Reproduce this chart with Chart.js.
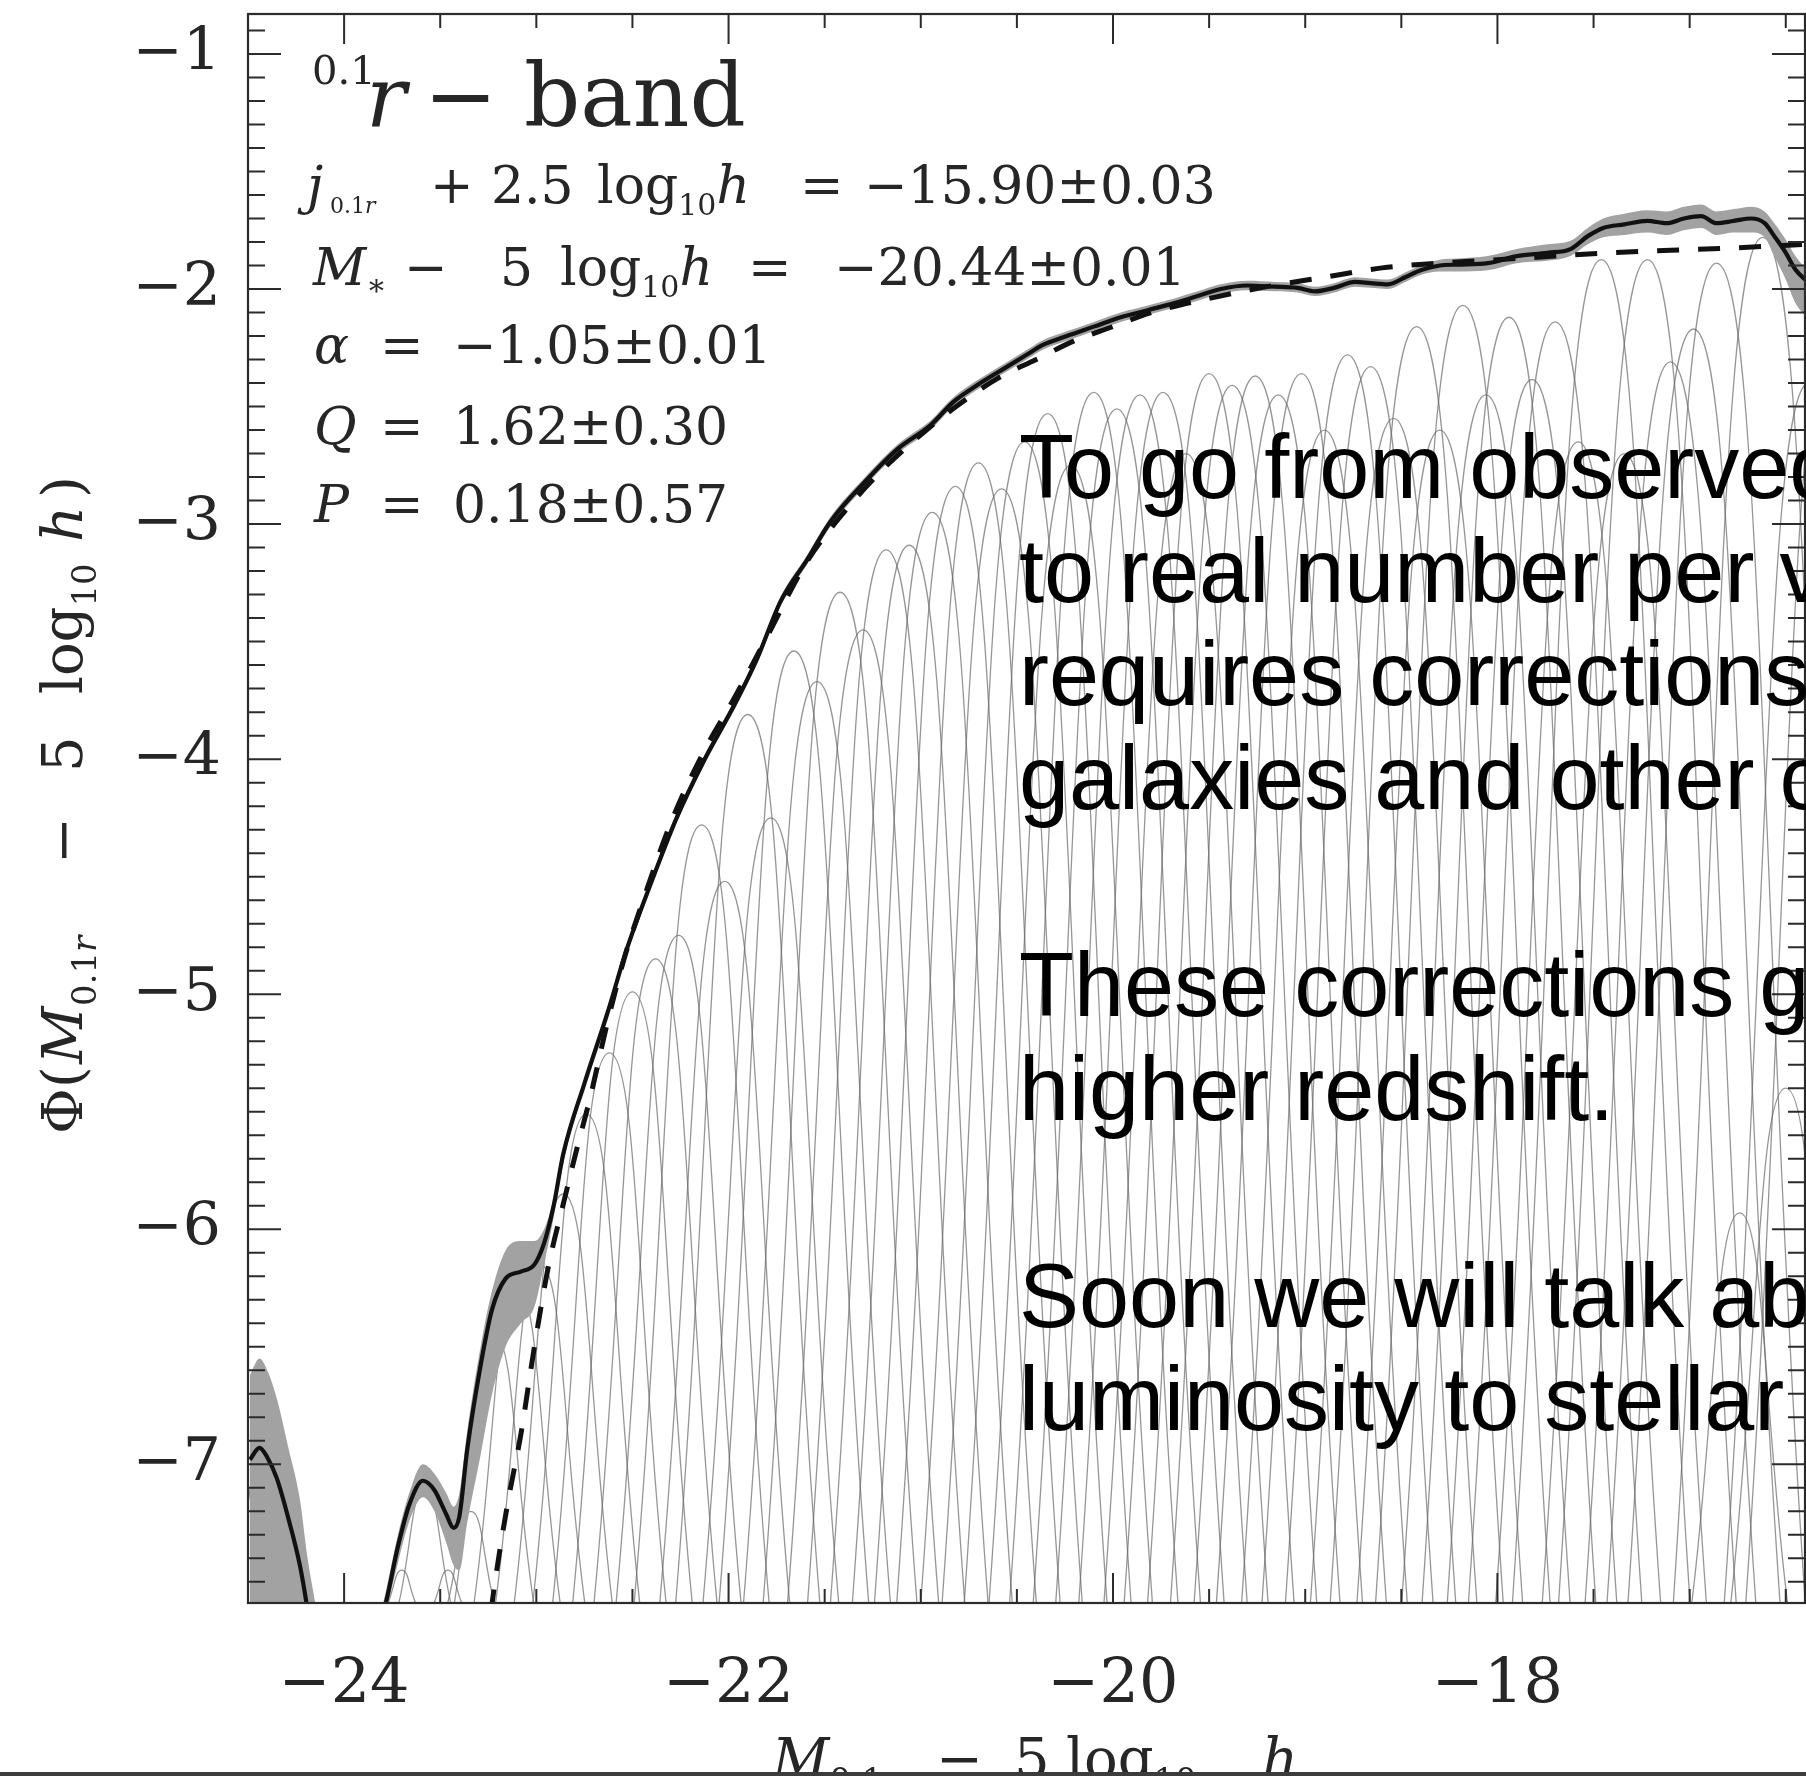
<!DOCTYPE html>
<html><head><meta charset="utf-8">
<script src="https://cdn.jsdelivr.net/npm/chart.js@4.4.1/dist/chart.umd.min.js"></script>
<style>html,body{margin:0;padding:0;background:#fff;overflow:hidden}canvas{display:block}</style>
</head><body>
<canvas id="c" width="1806" height="1776"></canvas>
<script>
// ---------- axis ranges & tick labels ----------
const X_MIN = -24.5, X_MAX = -16.4, Y_MIN = -7.59, Y_MAX = -0.83;
const xTickValues = [-24, -22, -20, -18];
const yTickValues = [-7, -6, -5, -4, -3, -2, -1];

// ---------- luminosity function (solid line) with error band ----------
const lfX = [-24.49,-24.44,-24.40,-24.35,-24.29,-24.23,-24.19,-24.15, -24.0,
 -23.80,-23.78,-23.72,-23.66,-23.59,-23.53,-23.47,-23.43,-23.40,-23.36,-23.29,-23.23,-23.16,-23.08,-23.01,-22.96,-22.91,-22.86,
 -22.75,-22.63,-22.53,-22.40,-22.27,-22.13,-21.97,-21.85,-21.73,-21.59,-21.47,-21.29,-21.12,-20.95,-20.83,-20.69,-20.55,-20.43,
 -20.37,-20.24,-20.10,-19.96,-19.82,-19.68,-19.56,-19.44,-19.30,-19.16,-19.04,-18.95,-18.85,-18.74,-18.66,-18.57,-18.48,-18.40,
 -18.30,-18.21,-18.05,-17.90,-17.74,-17.62,-17.53,-17.45,-17.34,-17.22,-17.12,-17.03,-16.94,-16.86,-16.77,-16.68,-16.61,-16.56,
 -16.50,-16.45,-16.39];
const lfY = [-6.98,-6.93,-6.97,-7.06,-7.23,-7.43,-7.62,-7.85, null,
 -7.64,-7.58,-7.35,-7.17,-7.07,-7.11,-7.21,-7.27,-7.22,-6.94,-6.58,-6.34,-6.21,-6.18,-6.15,-6.06,-5.90,-5.68,
 -5.38,-5.08,-4.81,-4.52,-4.25,-4.01,-3.77,-3.57,-3.33,-3.15,-2.99,-2.82,-2.68,-2.58,-2.48,-2.40,-2.33,-2.27,
 -2.24,-2.20,-2.16,-2.12,-2.09,-2.06,-2.03,-2.00,-1.985,-1.99,-1.995,-2.01,-1.995,-1.97,-1.975,-1.98,-1.95,-1.92,
 -1.90,-1.896,-1.89,-1.86,-1.846,-1.83,-1.775,-1.74,-1.725,-1.71,-1.72,-1.70,-1.69,-1.72,-1.71,-1.70,-1.72,-1.775,
 -1.846,-1.917,-1.967];
const lfUpper = [-6.62,-6.55,-6.60,-6.72,-6.93,-7.15,-7.40,-7.59, null,
 -7.60,-7.53,-7.30,-7.12,-7.00,-7.04,-7.12,-7.18,-7.12,-6.86,-6.50,-6.26,-6.09,-6.05,-6.05,-6.00,-5.87,-5.66,
 -5.36,-5.06,-4.79,-4.50,-4.23,-3.99,-3.75,-3.55,-3.31,-3.13,-2.97,-2.80,-2.66,-2.56,-2.46,-2.38,-2.31,-2.25,
 -2.22,-2.18,-2.14,-2.10,-2.07,-2.04,-2.01,-1.98,-1.965,-1.97,-1.975,-1.99,-1.975,-1.95,-1.955,-1.96,-1.93,-1.90,
 -1.875,-1.87,-1.86,-1.83,-1.81,-1.795,-1.74,-1.70,-1.68,-1.665,-1.67,-1.65,-1.64,-1.67,-1.66,-1.65,-1.67,-1.72,
 -1.79,-1.86,-1.92];
const lfLower = [-8.2,-8.2,-8.2,-8.2,-8.2,-8.2,-8.2,-8.2, null,
 -7.75,-7.64,-7.42,-7.24,-7.14,-7.20,-7.33,-7.43,-7.45,-7.25,-6.96,-6.70,-6.50,-6.40,-6.33,-6.15,-5.95,-5.72,
 -5.40,-5.10,-4.83,-4.54,-4.27,-4.03,-3.79,-3.59,-3.35,-3.17,-3.01,-2.84,-2.70,-2.60,-2.50,-2.42,-2.35,-2.29,
 -2.26,-2.22,-2.18,-2.14,-2.11,-2.08,-2.05,-2.02,-2.005,-2.01,-2.015,-2.03,-2.015,-1.99,-1.995,-2.00,-1.97,-1.94,
 -1.925,-1.925,-1.92,-1.89,-1.88,-1.86,-1.81,-1.78,-1.77,-1.76,-1.77,-1.75,-1.74,-1.77,-1.76,-1.76,-1.78,-1.86,
 -1.96,-2.06,-2.12];

// ---------- Schechter fit (dashed) ----------
const schX = [-23.26,-23.23,-23.15,-23.08,-23.01,-22.94,-22.85,-22.79,-22.72,-22.63,-22.54,-22.44,-22.30,-22.13,-21.97,-21.80,
 -21.60,-21.40,-21.20,-21.00,-20.80,-20.60,-20.40,-20.20,-20.00,-19.80,-19.50,-19.20,-18.90,-18.60,-18.30,-18.00,-17.70,-17.40,
 -17.10,-16.80,-16.40];
const schY = [-7.80,-7.59,-7.17,-6.87,-6.50,-6.17,-5.86,-5.66,-5.44,-5.12,-4.84,-4.59,-4.27,-3.97,-3.74,-3.48,
 -3.17,-2.95,-2.77,-2.62,-2.49,-2.38,-2.30,-2.22,-2.16,-2.10,-2.04,-1.99,-1.95,-1.91,-1.89,-1.875,-1.86,-1.845,
 -1.835,-1.826,-1.81];

// ---------- individual Gaussian components (thin grey arches) ----------
const archCenter = [-24.42,-24.30,-23.70,-23.58,-23.46,-23.34,-23.22,-23.10,-22.98,-22.86,-22.74,-22.62,-22.50,-22.38,-22.26,
 -22.14,-22.02,-21.90,-21.78,-21.66,-21.54,-21.42,-21.30,-21.18,-21.06,-20.94,-20.82,-20.70,-20.58,-20.46,-20.34,-20.22,-20.10,
 -19.98,-19.86,-19.74,-19.62,-19.50,-19.38,-19.26,-19.14,-19.02,-18.90,-18.78,-18.66,-18.54,-18.42,-18.30,-18.18,-18.06,-17.94,
 -17.82,-17.70,-17.58,-17.46,-17.34,-17.22,-17.10,-16.98,-16.86,-16.74,-16.62,-16.50,-16.38,-16.26];
const archPeak = [-6.95,-7.45,-7.45,-7.10,-7.45,-7.20,-6.45,-6.25,-6.15,-5.85,-5.51,-5.25,-4.99,-4.85,-4.75,
 -4.28,-4.52,-3.81,-4.25,-3.54,-3.67,-3.29,-3.45,-3.11,-3.09,-2.95,-2.84,-2.74,-2.85,-2.65,-2.53,-2.75,-2.44,
 -2.51,-2.45,-2.44,-2.70,-2.36,-2.41,-2.37,-2.45,-2.36,-2.60,-2.28,-2.33,-2.55,-2.16,-2.60,-2.07,-2.45,-2.12,
 -2.385,-2.14,-2.65,-1.875,-2.70,-1.875,-2.31,-2.17,-1.89,-5.93,-1.78,-5.40,-2.40,-2.20];
const archHalfBase = [0.154,0.072,0.072,0.135,0.072,0.121,0.206,0.224,0.232,0.255,0.278,0.295,0.311,0.320,0.325,
 0.351,0.338,0.375,0.353,0.389,0.382,0.400,0.393,0.409,0.410,0.416,0.421,0.425,0.420,0.429,0.434,0.425,0.438,
 0.435,0.438,0.438,0.427,0.442,0.440,0.441,0.438,0.442,0.431,0.445,0.443,0.433,0.450,0.431,0.454,0.438,0.452,
 0.441,0.451,0.429,0.462,0.427,0.462,0.444,0.450,0.461,0.249,0.465,0.286,0.440,0.448];

// ---------- texts ----------
const fitParams = [
  {name: 'j', sub: '0.1r', value: '\u221215.90\u00b10.03'},
  {name: 'M', sub: '*', value: '\u221220.44\u00b10.01'},
  {name: '\u03b1', value: '\u22121.05\u00b10.01'},
  {name: 'Q', value: '1.62\u00b10.30'},
  {name: 'P', value: '0.18\u00b10.57'}
];
const noteLines = ['To go from observed', 'to real number per volume', 'requires corrections',
  'galaxies and other complications', '', 'These corrections get', 'higher redshift.', '',
  'Soon we will talk about', 'luminosity to stellar'];

// ---------- build datasets ----------
const pts = (xs, ys) => xs.map((x, i) => ({x: x, y: ys[i]}));
const datasets = [];
archCenter.forEach((c, i) => {
  datasets.push({
    data: [{x: c - archHalfBase[i], y: Y_MIN}, {x: c, y: archPeak[i]}, {x: c + archHalfBase[i], y: Y_MIN}],
    showLine: true, borderColor: 'rgba(105,105,105,0.7)', borderWidth: 1.3, pointRadius: 0,
    tension: 0.5, fill: false, order: 10
  });
});
datasets.push({data: pts(lfX, lfUpper), showLine: true, borderWidth: 0, borderColor: 'rgba(0,0,0,0)',
  backgroundColor: '#a2a2a2', fill: '+1', pointRadius: 0, cubicInterpolationMode: 'monotone', order: 5});
datasets.push({data: pts(lfX, lfLower), showLine: true, borderWidth: 0, borderColor: 'rgba(0,0,0,0)',
  fill: false, pointRadius: 0, cubicInterpolationMode: 'monotone', order: 5});
datasets.push({data: pts(schX, schY), showLine: true, borderColor: '#111', borderWidth: 5, borderDash: [22, 19],
  borderCapStyle: 'butt', pointRadius: 0, fill: false, cubicInterpolationMode: 'monotone', order: 2});
datasets.push({data: pts(lfX, lfY), showLine: true, borderColor: '#111', borderWidth: 4.2,
  pointRadius: 0, fill: false, cubicInterpolationMode: 'monotone', order: 1});

const fmt = v => (v < 0 ? '\u2212' : '') + Math.abs(v);
const TXT = '#262626';

function runs(ctx, y0, parts) {
  let x = 0;
  for (const p of parts) {
    if (p.at !== undefined) x = p.at;
    ctx.font = p.f;
    ctx.fillText(p.t, x, y0 + (p.dy || 0));
    x += ctx.measureText(p.t).width + (p.gap || 0);
  }
}

const decor = {
  id: 'decor',
  afterDatasetsDraw(chart) {
    const {ctx, chartArea: a, scales: {x, y}} = chart;
    ctx.save();
    ctx.strokeStyle = '#2b2b2b';
    ctx.lineWidth = 2;
    ctx.beginPath();
    for (let k = Math.ceil(X_MIN * 2); k <= Math.floor(X_MAX * 2); k++) {
      const px = x.getPixelForValue(k / 2);
      const len = (k % 4 === 0) ? 30 : 14;
      ctx.moveTo(px, a.bottom); ctx.lineTo(px, a.bottom - len);
      ctx.moveTo(px, a.top); ctx.lineTo(px, a.top + len);
    }
    for (let k = Math.ceil(Y_MIN * 10); k <= Math.floor(Y_MAX * 10); k++) {
      const py = y.getPixelForValue(k / 10);
      const len = (k % 10 === 0) ? 33 : 17;
      ctx.moveTo(a.left, py); ctx.lineTo(a.left + len, py);
      ctx.moveTo(a.right, py); ctx.lineTo(a.right - len, py);
    }
    ctx.stroke();
    ctx.lineWidth = 2.2;
    ctx.strokeRect(a.left, a.top, a.right - a.left, a.bottom - a.top);
    ctx.restore();
  },
  afterDraw(chart) {
    const ctx = chart.ctx;
    ctx.save();
    ctx.fillStyle = TXT;
    ctx.textBaseline = 'alphabetic';
    ctx.textAlign = 'left';
    const F = (s, it) => (it ? 'italic ' : '') + s + 'px "DejaVu Serif"';
    // band label
    runs(ctx, 84, [{t: '0.1', f: F(40), at: 312}]);
    runs(ctx, 126, [{t: 'r', f: F(84, true), at: 366}]);
    runs(ctx, 126, [{t: '\u2212', f: F(88), at: 424}]);
    runs(ctx, 126, [{t: 'band', f: F(88), at: 524}]);
    // fit parameters
    const base = [203, 285, 363, 444, 522];
    // line 1: j_{0.1r} + 2.5 log10 h = value
    runs(ctx, base[0], [{t: fitParams[0].name, f: F(52, true), at: 307},
      {t: '0.1', f: F(22), dy: 10, at: 330}, {t: 'r', f: F(22, true), dy: 10},
      {t: '+', f: F(52), at: 430}, {t: '2.5', f: F(52), at: 491}, {t: 'log', f: F(52), at: 597},
      {t: '10', f: F(30), dy: 12}, {t: 'h', f: F(52, true), gap: 0},
      {t: '=', f: F(52), at: 800}, {t: fitParams[0].value, f: F(52), at: 864}]);
    // line 2: M_* - 5 log10 h = value
    runs(ctx, base[1], [{t: fitParams[1].name, f: F(52, true), at: 313},
      {t: '\u2217', f: F(30), dy: 10},
      {t: '\u2212', f: F(52), at: 404}, {t: '5', f: F(52), at: 500}, {t: 'log', f: F(52), at: 560},
      {t: '10', f: F(30), dy: 12}, {t: 'h', f: F(52, true)},
      {t: '=', f: F(52), at: 748}, {t: fitParams[1].value, f: F(52), at: 834}]);
    for (let i = 2; i < 5; i++) {
      runs(ctx, base[i], [{t: fitParams[i].name, f: F(52, true), at: 314},
        {t: '=', f: F(52), at: 380}, {t: fitParams[i].value, f: F(52), at: 453}]);
    }
    // x axis title (cut off by the page edge)
    runs(ctx, 1778, [{t: 'M', f: F(56, true), at: 772}, {t: '0.1', f: F(34), dy: 14}, {t: 'r', f: F(34, true), dy: 14},
      {t: '\u2212', f: F(56), at: 936}, {t: '5', f: F(56), at: 1014}, {t: 'log', f: F(56), at: 1066},
      {t: '10', f: F(34), dy: 14}, {t: 'h', f: F(56, true), at: 1262}]);
    // y axis title (rotated)
    ctx.save();
    ctx.translate(82, 1134);
    ctx.rotate(-Math.PI / 2);
    runs(ctx, 0, [{t: '\u03a6', f: F(56), at: 0}, {t: '(', f: F(56), at: 46},
      {t: 'M', f: F(56, true), at: 70}, {t: '0.1', f: F(34), dy: 14, at: 128}, {t: 'r', f: F(34, true), dy: 14},
      {t: '\u2212', f: F(56), at: 270}, {t: '5', f: F(56), at: 362}, {t: 'log', f: F(56), at: 440},
      {t: '10', f: F(34), dy: 14}, {t: 'h', f: F(56, true), at: 592}, {t: ')', f: F(56), at: 636}]);
    ctx.restore();
    // slide note text
    ctx.fillStyle = '#000';
    ctx.font = '90px "Liberation Sans"';
    noteLines.forEach((s, i) => { if (s) ctx.fillText(s, 1019, 498 + i * 103.6); });
    // slide bottom edge
    ctx.fillStyle = '#3c3c3c';
    ctx.fillRect(0, 1772, 1806, 4);
    ctx.restore();
  }
};

new Chart(document.getElementById('c'), {
  type: 'scatter',
  data: {datasets: datasets},
  options: {
    responsive: false, animation: false, devicePixelRatio: 1,
    layout: {padding: {left: 0, top: 14, right: 1, bottom: 0}},
    plugins: {legend: {display: false}, tooltip: {enabled: false}},
    elements: {point: {radius: 0}},
    scales: {
      x: {
        type: 'linear', position: 'bottom', min: X_MIN, max: X_MAX,
        grid: {display: false, drawTicks: false}, border: {display: false},
        afterBuildTicks: s => { s.ticks = xTickValues.map(v => ({value: v})); },
        afterFit: s => { s.height = 173; s.paddingLeft = 0; s.paddingRight = 0; },
        ticks: {callback: v => fmt(v), font: {family: 'DejaVu Serif', size: 62}, color: TXT,
          padding: 46, maxRotation: 0, autoSkip: false}
      },
      y: {
        type: 'linear', position: 'left', min: Y_MIN, max: Y_MAX,
        grid: {display: false, drawTicks: false}, border: {display: false},
        afterBuildTicks: s => { s.ticks = yTickValues.map(v => ({value: v})); },
        afterFit: s => { s.width = 248; s.paddingTop = 0; s.paddingBottom = 0; },
        ticks: {callback: v => fmt(v), font: {family: 'DejaVu Serif', size: 60}, color: TXT,
          padding: 27, autoSkip: false}
      }
    }
  },
  plugins: [decor]
});
</script>
</body></html>
